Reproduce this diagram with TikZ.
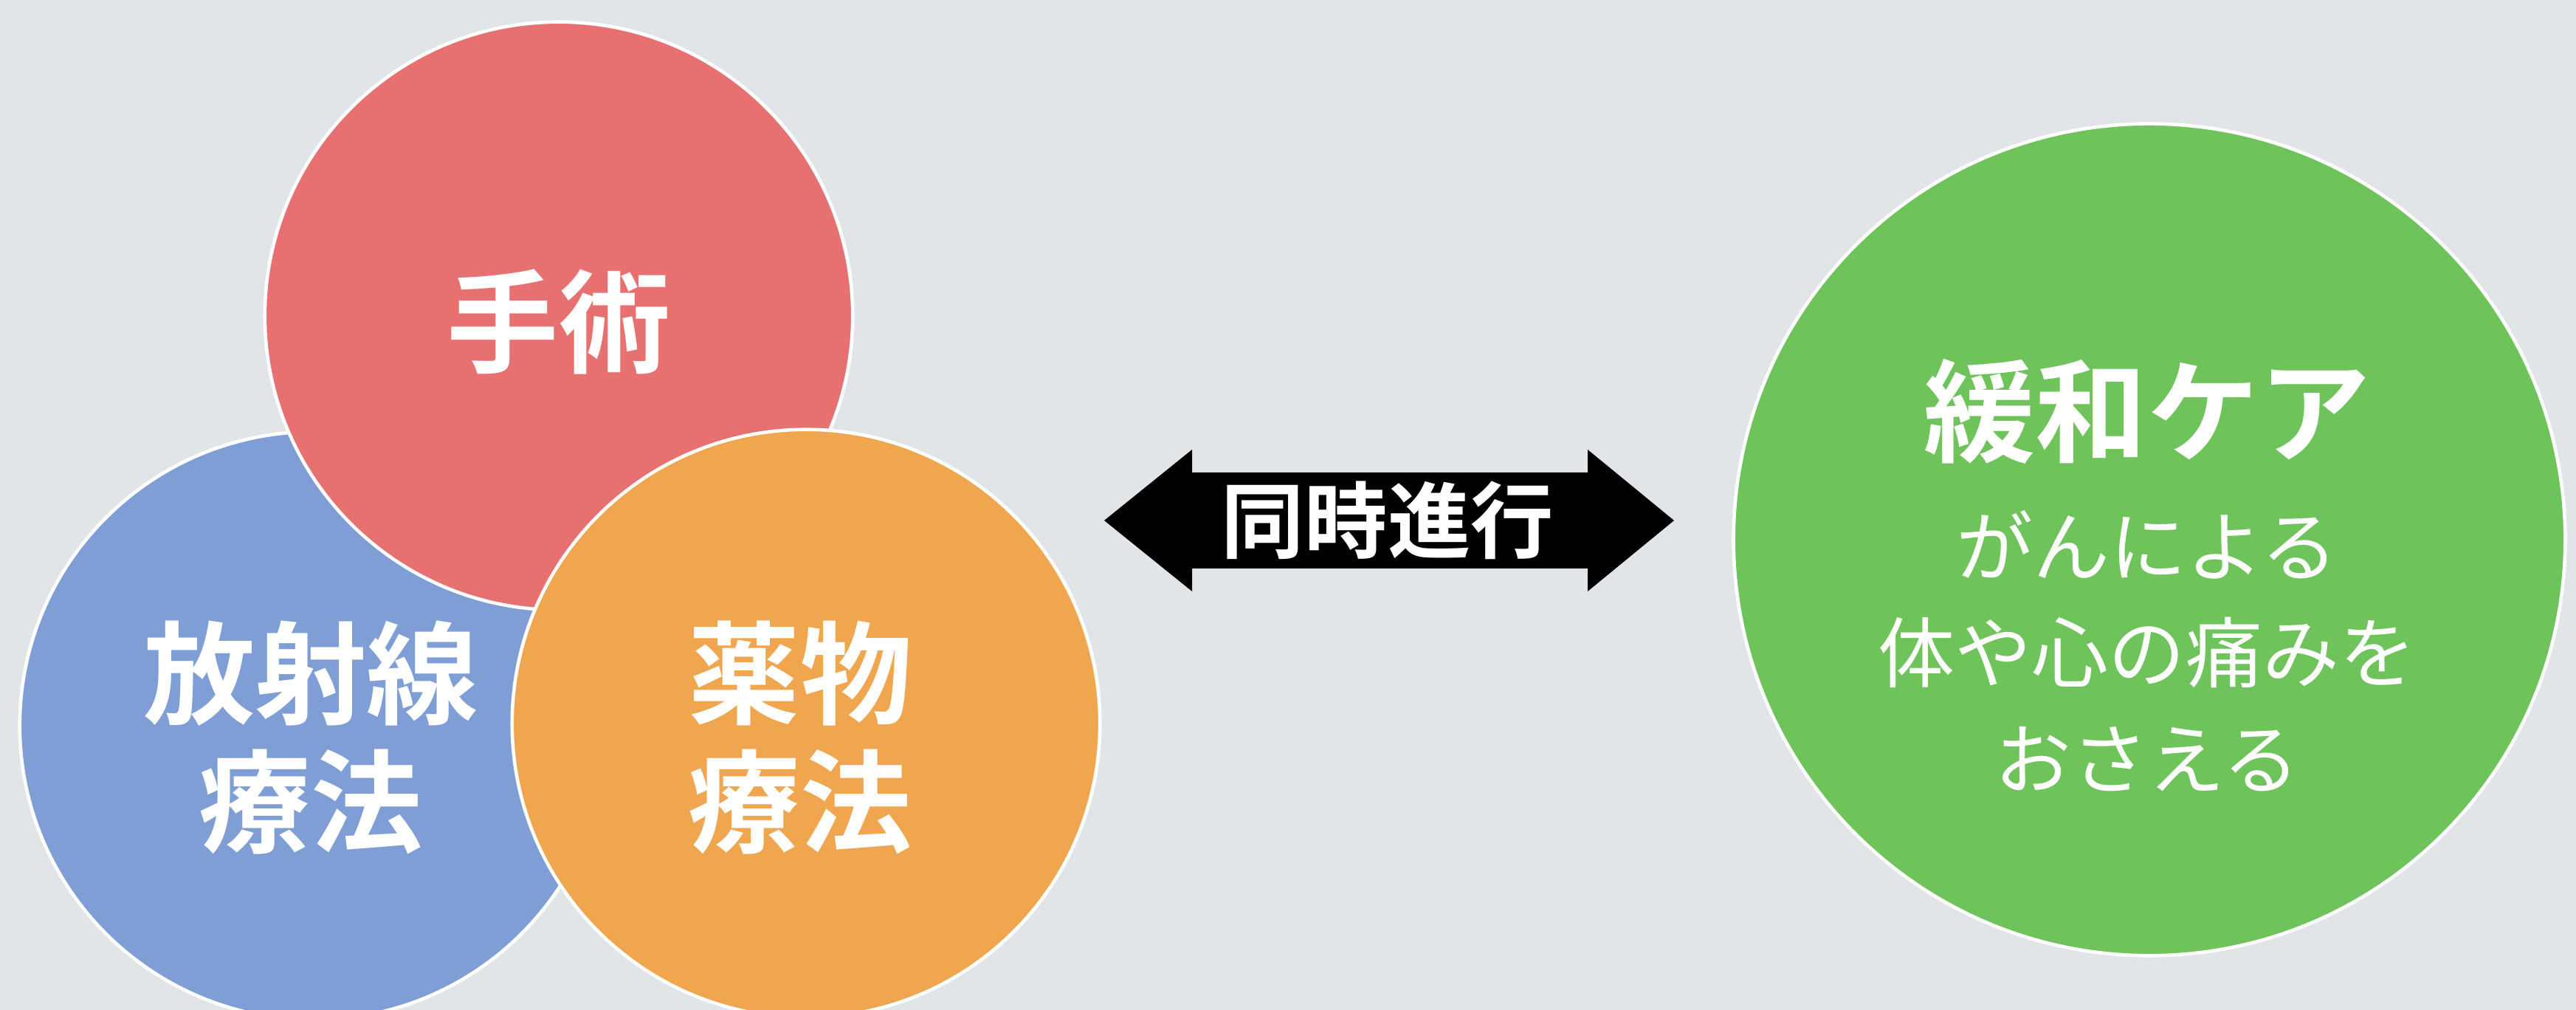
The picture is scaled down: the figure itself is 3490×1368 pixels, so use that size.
\documentclass[tikz,border=0pt]{standalone}
\usepackage{fontspec}
\newfontfamily\jp{Noto Sans CJK JP}[BoldFont={* Bold}]
\definecolor{bgc}{RGB}{226,229,232}
\definecolor{cred}{RGB}{231,112,112}
\definecolor{cblue}{RGB}{128,158,214}
\definecolor{corange}{RGB}{240,166,78}
\definecolor{cgreen}{RGB}{110,195,90}
\begin{document}
\begin{tikzpicture}[x=0.01cm,y=0.01cm,
  ball/.style={circle, draw=white, line width=1.3pt, minimum size=7.96cm, inner sep=0pt},
  bigtxt/.style={text=white, font=\jp\bfseries\fontsize{43pt}{49.5pt}\selectfont, align=center},
  subtxt/.style={text=white, font=\jp\fontsize{29.6pt}{41pt}\selectfont, align=center},
  arrtxt/.style={text=white, font=\jp\bfseries\fontsize{32pt}{32pt}\selectfont}]
\useasboundingbox (0,0) rectangle (3490,1368);
\fill[bgc] (0,0) rectangle (3490,1368);
% treatment circles
\node[ball, fill=cblue] (blue) at (425,385) {};
\node[ball, fill=cred] (red) at (757,940) {};
\node[ball, fill=corange] (orange) at (1092,388) {};
\node[bigtxt] (t1) at (757,932) {手術};
\node[bigtxt] (t2) at (421,369) {放射線\\療法};
\node[bigtxt] (t3) at (1084,369) {薬物\\療法};
% palliative care circle
\node[ball, fill=cgreen, minimum size=11.26cm] (green) at (2912,637) {};
\node[bigtxt] (g1) at (2909,811) {緩和ケア};
\node[subtxt] (g2) at (2909,486) {がんによる\\体や心の痛みを\\おさえる};
% double arrow
\coordinate (la) at (1496,663);
\coordinate (ra) at (2268,663);
\fill[black]
  (la) -- (1615,759) -- (1615,728) -- (2151,728) -- (2151,759) -- (ra)
  -- (2151,567) -- (2151,598) -- (1615,598) -- (1615,567) -- cycle;
\node[arrtxt] (at) at (1880,663) {同時進行};
\end{tikzpicture}
\end{document}
